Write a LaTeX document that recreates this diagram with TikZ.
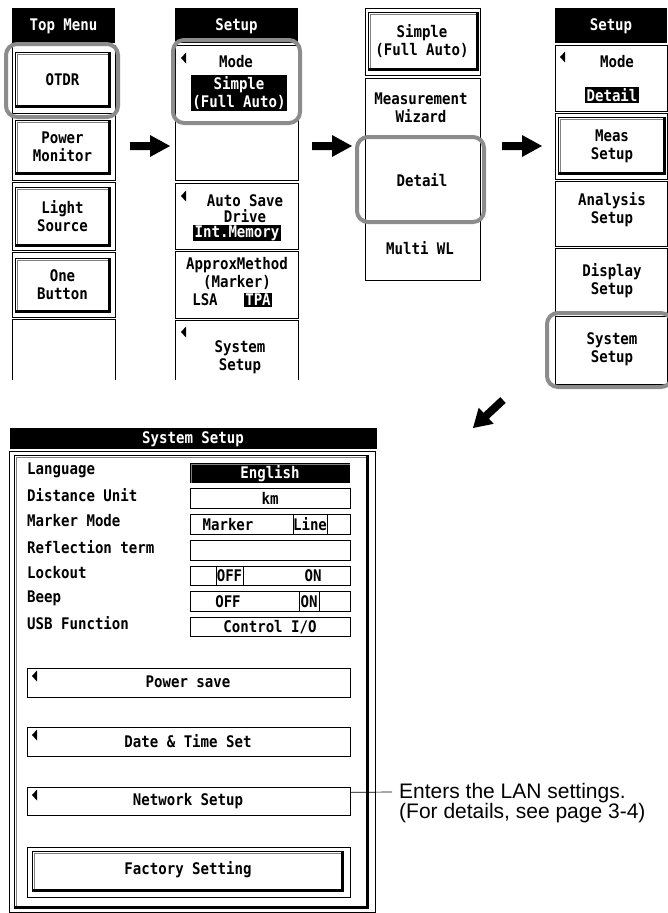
\documentclass[tikz,border=0pt]{standalone}
\usepackage{fontspec}
\setmainfont{Liberation Sans}
\newfontfamily\scrfam[FakeStretch=0.88]{DejaVu Sans Mono}
\newcommand\myscr{\scrfam\bfseries\fontsize{16}{18}\selectfont}
\definecolor{hlgray}{gray}{0.55}
\newcommand\tdbtn[4]{%
  \draw[line width=0.7] (#1,#2) rectangle (#3,#4);
  \draw[gray, line width=0.6] (#1+2.5,#4-2) -- (#1+2.5,#2+2.5) -- (#3-2.5,#2+2.5);
  \draw[line width=2.4] (#1+1.2,#4-1.2) -- (#3-1.2,#4-1.2) -- (#3-1.2,#2+1.2);
}
\newcommand\ltri[2]{\fill (#1,#2) -- (#1+5,#2-5.5) -- (#1+5,#2+5.5) -- cycle;}
\newcommand\harrow[1]{\fill (#1) ++(0,-4) -- ++(20,0) -- ++(0,-7) -- ++(20,11) -- ++(-20,11) -- ++(0,-7) -- ++(-20,0) -- cycle;}
\tikzset{
  cell/.style={draw=black, line width=0.7},
  hl/.style={draw=hlgray, line width=4, rounded corners=11},
  scr/.style={font=\myscr, inner sep=0pt, align=center},
  inv/.style={scr, fill=black, text=white, inner xsep=1.5pt, inner ysep=1pt},
  note/.style={font=\fontsize{21}{20}\selectfont, align=left, inner sep=0pt, anchor=west},
}
\begin{document}
\begin{tikzpicture}[x=1pt,y=-1pt]
\useasboundingbox[fill=white] (0,0) rectangle (667,913);

% ---------- column 1: Top Menu ----------
\fill (12,8) rectangle (115,43);
\node[scr,text=white] (tm) at (63.5,26) {Top Menu};
\foreach \a/\b in {45/113,115/180,182/250,252/317} \draw[cell] (12,\a) rectangle (115,\b);
\draw[cell] (12,380) -- (12,319) -- (115,319) -- (115,380);
\tdbtn{15}{52}{110}{107}
\tdbtn{15}{120}{110}{174}
\tdbtn{15}{187}{110}{246}
\tdbtn{15}{258}{110}{312}
\node[scr] (otdr) at (62.5,80) {OTDR};
\node[scr] (pm) at (62.5,147) {Power\\Monitor};
\node[scr] (ls) at (62.5,216) {Light\\Source};
\node[scr] (ob) at (62.5,285) {One\\Button};
\draw[hl] (6,44) rectangle (118,117);

% ---------- column 2: Setup ----------
\fill (175,8) rectangle (298,43);
\node[scr,text=white] (s1) at (236.5,26) {Setup};
\draw[cell] (175,45) rectangle (298,180);
\draw[cell] (175,183) rectangle (298,249);
\draw[cell] (175,251) rectangle (298,318);
\draw[cell] (175,380) -- (175,320) -- (298,320) -- (298,380);
\ltri{181}{58}
\node[scr] (mode1) at (236,62) {Mode};
\node[inv, minimum width=92pt] (simple1) at (239,93) {Simple\\(Full Auto)};
\draw[hl] (173,40) rectangle (300,123);
\ltri{181}{196}
\node[scr] (as) at (245,201) {Auto Save};
\node[scr] (dr) at (245,216) {Drive};
\node[inv] (im) at (237,233) {Int.Memory};
\node[scr] (am) at (237,273) {ApproxMethod\\(Marker)};
\node[scr] (lsa) at (205,300) {LSA};
\node[inv] (tpa) at (258,300) {TPA};
\ltri{181}{332}
\node[scr] (ss1) at (240,357) {System\\Setup};

% ---------- column 3 ----------
\draw[cell] (365,8) rectangle (480,75);
\draw[cell] (365,78) rectangle (480,280);
\tdbtn{368}{12}{478}{70}
\node[scr] (simple2) at (422,41) {Simple\\(Full Auto)};
\node[scr] (mw) at (421,108) {Measurement\\Wizard};
\node[scr] (det) at (422,180) {Detail};
\node[scr] (mwl) at (420,248) {Multi WL};
\draw[hl] (357,137) rectangle (484,222);

% ---------- column 4: Setup ----------
\fill (555,8) rectangle (667,43);
\node[scr,text=white] (s2) at (611,26) {Setup};
\draw[cell] (555,45) rectangle (667,111);
\draw[cell] (555,113) rectangle (667,179);
\draw[cell] (555,181) rectangle (667,246);
\draw[cell] (555,248) rectangle (667,314);
\draw[cell] (555,316) rectangle (667,384);
\ltri{560}{57}
\node[scr] (mode2) at (617,62) {Mode};
\node[inv] (det2) at (612,95) {Detail};
\tdbtn{558}{117}{665}{174}
\node[scr] (meas) at (612,146) {Meas\\Setup};
\node[scr] (ana) at (612,210) {Analysis\\Setup};
\node[scr] (disp) at (612,281) {Display\\Setup};
\node[scr] (ss2) at (612,349) {System\\Setup};
\draw[hl] (547,313) rectangle (672,387);

% ---------- arrows ----------
\coordinate (ar1) at (130,146);
\coordinate (ar2) at (312,146);
\coordinate (ar3) at (502,146);
\harrow{ar1}
\harrow{ar2}
\harrow{ar3}
\fill (500.3,397.1) -- (505.7,402.9) -- (488.9,418.6) -- (493.7,423.8) -- (473,428) -- (478.7,407.7) -- (483.5,412.8) -- cycle;

% ---------- System Setup panel ----------
\fill (10,428) rectangle (377,449);
\node[scr,text=white] (ssh) at (193,439) {System Setup};
\draw[line width=0.7] (9,451) rectangle (375,912);
\draw[line width=0.7] (14,907) -- (14,455) -- (367,455);
\draw[gray, line width=0.6] (16.5,906) -- (16.5,457.5) -- (366,457.5);
\draw[line width=3] (14,907) -- (367,907) -- (367,455);

\node[scr, anchor=west] (l1) at (27,470) {Language};
\node[scr, anchor=west] (l2) at (27,495) {Distance Unit};
\node[scr, anchor=west] (l3) at (27,521) {Marker Mode};
\node[scr, anchor=west] (l4) at (27,547) {Reflection term};
\node[scr, anchor=west] (l5) at (27,573) {Lockout};
\node[scr, anchor=west] (l6) at (27,598) {Beep};
\node[scr, anchor=west] (l7) at (27,623) {USB Function};

\fill (190,463) rectangle (350,483);
\draw[gray, line width=0.6] (191,483) -- (191,464) -- (350,464);
\node[scr,text=white] (v1) at (270,473.5) {English};
\draw[cell] (190,488) rectangle (350,508);
\node[scr] (v2) at (270,498.5) {km};
\draw[cell] (190,514) rectangle (350,534);
\node[scr] (v3a) at (228,524.5) {Marker};
\draw[cell] (293,514) -- (293,534) (327,514) -- (327,534);
\node[scr] (v3b) at (310,524.5) {Line};
\draw[cell] (190,540) rectangle (350,560);
\draw[cell] (190,566) rectangle (350,585);
\draw[cell] (216,566) -- (216,585) (243,566) -- (243,585);
\node[scr] (v5a) at (229.5,576) {OFF};
\node[scr] (v5b) at (313,576) {ON};
\draw[cell] (190,591) rectangle (350,611);
\draw[cell] (299,591) -- (299,611) (319,591) -- (319,611);
\node[scr] (v6a) at (228,601.5) {OFF};
\node[scr] (v6b) at (309,601.5) {ON};
\draw[cell] (190,617) rectangle (350,636);
\node[scr] (v7) at (270,627) {Control I/O};

\node[cell, minimum width=323pt, minimum height=29pt, inner sep=0pt, anchor=north west] (pwb) at (27,668) {};
\ltri{32}{676}
\node[scr] (pw) at (188,682) {Power save};
\node[cell, minimum width=323pt, minimum height=29pt, inner sep=0pt, anchor=north west] (dtb) at (27,727) {};
\ltri{32}{735}
\node[scr] (dt) at (188,741) {Date \& Time Set};
\node[cell, minimum width=323pt, minimum height=28pt, inner sep=0pt, anchor=north west] (netb) at (27,787) {};
\ltri{32}{795}
\node[scr] (net) at (188,801) {Network Setup};
\draw[cell] (27,847) rectangle (350,897);
\tdbtn{32}{851}{343}{891}
\node[scr] (fs) at (188,870) {Factory Setting};

% ---------- annotation ----------
\coordinate (annc) at (392,792);
\node[note] (ann) at (399,803) {Enters the LAN settings.\\(For details, see page 3-4)};
\draw[line width=0.7] ([yshift=9pt]netb.east) -- (annc);
\end{tikzpicture}
\end{document}
